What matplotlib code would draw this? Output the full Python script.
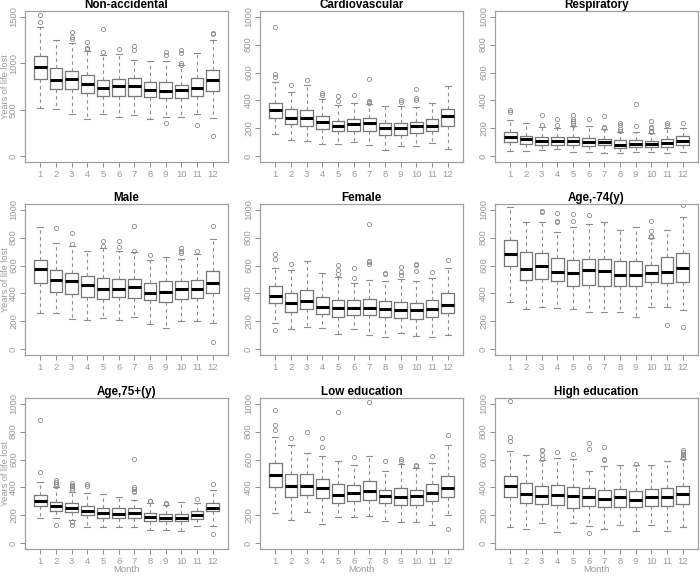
import matplotlib
matplotlib.use("Agg")
import matplotlib.pyplot as plt

plt.rcParams['font.family'] = ['Liberation Sans', 'DejaVu Sans']

months = [str(m) for m in range(1, 13)]

# per panel: whisker low, q1, median, q3, whisker high, outliers
nonacc_lo = [522, 504, 460, 406, 460, 424, 439, 399, 428, 428, 460, 414]
nonacc_q1 = [835, 719, 719, 680, 644, 651, 651, 633, 626, 626, 651, 705]
nonacc_med = [957, 824, 835, 781, 730, 755, 755, 712, 698, 712, 737, 820]
nonacc_q3 = [1072, 953, 921, 871, 824, 835, 845, 799, 799, 770, 845, 928]
nonacc_hi = [1388, 1245, 1216, 1126, 1090, 1097, 1029, 1025, 1025, 978, 1108, 1252]
nonacc_out = [[1522, 1439], [], [1338, 1281, 1262], [1230, 1165, 1150], [1367, 1115], [1151],
              [1180, 1137], [], [1115, 1083, 363], [1137, 1108, 1000, 982], [338], [1327, 1317, 219]]

cardio_lo = [162, 119, 110, 86, 88, 102, 83, 43, 74, 71, 98, 52]
cardio_q1 = [276, 233, 217, 195, 183, 181, 183, 152, 150, 167, 183, 217]
cardio_med = [333, 276, 276, 243, 217, 229, 236, 200, 200, 214, 219, 286]
cardio_q3 = [381, 336, 333, 290, 252, 271, 274, 236, 236, 248, 269, 338]
cardio_hi = [531, 460, 510, 410, 367, 383, 374, 362, 360, 352, 383, 505]
cardio_out = [[929, 590, 567], [514], [543], [450, 440], [429, 393], [436],
              [555, 398, 388, 380], [], [400, 390], [483, 417, 405], [], []]

resp_lo = [41, 41, 44, 53, 34, 34, 23, 23, 30, 30, 23, 28]
resp_q1 = [103, 92, 85, 80, 85, 76, 80, 62, 64, 64, 69, 80]
resp_med = [136, 122, 108, 113, 110, 103, 103, 85, 87, 87, 99, 113]
resp_q3 = [172, 149, 136, 138, 138, 133, 126, 115, 115, 110, 126, 143]
resp_hi = [260, 239, 211, 202, 221, 218, 195, 172, 177, 168, 205, 200]
resp_out = [[329, 317], [], [299, 225], [267, 225], [299, 264, 253, 241, 228], [264],
            [292, 207, 200], [241, 228, 195, 184], [377, 214], [251, 211, 200, 184, 175],
            [237, 223], [241]]

male_lo = [258, 258, 215, 208, 222, 208, 232, 179, 156, 203, 203, 187]
male_q1 = [476, 411, 395, 378, 359, 376, 371, 354, 342, 359, 366, 402]
male_med = [574, 498, 486, 459, 431, 435, 443, 407, 411, 431, 435, 474]
male_q3 = [641, 567, 543, 522, 510, 507, 502, 478, 490, 486, 498, 562]
male_hi = [878, 761, 742, 701, 725, 701, 694, 641, 663, 646, 682, 789]
male_out = [[], [866], [835, 751], [], [778, 737], [778, 734], [880, 706], [675], [],
            [722, 706, 689], [706], [880, 55]]

female_lo = [187, 148, 163, 153, 112, 148, 105, 91, 120, 96, 91, 103]
female_q1 = [330, 270, 287, 256, 234, 244, 246, 234, 222, 220, 234, 258]
female_med = [383, 330, 344, 304, 297, 297, 299, 287, 280, 280, 287, 321]
female_q3 = [450, 400, 423, 378, 352, 352, 359, 347, 340, 335, 354, 400]
female_hi = [579, 569, 629, 550, 519, 474, 495, 486, 507, 486, 510, 581]
female_out = [[682, 646, 139], [610], [], [], [603, 569, 538], [579, 514],
              [897, 634, 622, 610], [550, 538], [586, 555, 531], [610, 603, 562], [557], [641]]

young_lo = [338, 290, 302, 298, 286, 271, 271, 267, 231, 302, 302, 279]
young_q1 = [595, 498, 505, 486, 457, 464, 457, 457, 457, 481, 474, 481]
young_med = [683, 576, 595, 557, 545, 571, 564, 529, 533, 548, 557, 583]
young_q3 = [779, 700, 688, 652, 636, 648, 648, 629, 631, 605, 660, 690]
young_hi = [1017, 910, 910, 843, 874, 898, 914, 857, 874, 798, 857, 945]
young_out = [[], [], [993, 981], [974, 921, 910], [969, 917], [962], [], [], [],
             [919, 850, 810, 802], [176], [1036, 160]]

old_lo = [180, 180, 164, 116, 116, 116, 116, 93, 93, 88, 124, 128]
old_q1 = [266, 235, 223, 200, 183, 183, 183, 159, 157, 159, 171, 230]
old_med = [306, 271, 252, 235, 219, 211, 219, 188, 181, 183, 200, 252]
old_q3 = [347, 299, 287, 264, 254, 252, 252, 216, 207, 211, 230, 290]
old_hi = [442, 401, 371, 359, 354, 330, 314, 290, 278, 295, 290, 382]
old_out = [[881, 513], [455, 440, 425, 410, 133], [432, 420, 408, 397, 385, 152, 133],
           [425, 408], [], [], [601, 401, 390, 378, 366], [306, 300], [292, 285], [],
           [318], [425, 69]]

lowed_lo = [216, 164, 223, 138, 188, 188, 197, 162, 152, 152, 135, 204]
lowed_q1 = [406, 330, 349, 325, 290, 302, 314, 290, 278, 276, 302, 330]
lowed_med = [492, 413, 413, 397, 349, 361, 373, 342, 335, 337, 361, 395]
lowed_q3 = [572, 496, 496, 461, 425, 420, 444, 382, 397, 382, 425, 485]
lowed_hi = [758, 703, 646, 627, 587, 561, 622, 520, 568, 537, 572, 705]
lowed_out = [[952, 848, 812], [751], [800], [751, 690], [943], [615], [1014], [589],
             [603, 591], [563, 556], [627], [774, 100]]

highed_lo = [116, 105, 145, 81, 147, 121, 105, 135, 90, 135, 88, 116]
highed_q1 = [335, 290, 283, 276, 254, 271, 259, 259, 259, 266, 266, 283]
highed_med = [413, 354, 342, 349, 342, 335, 318, 330, 314, 335, 330, 354]
highed_q3 = [480, 430, 413, 418, 401, 397, 385, 390, 378, 390, 394, 413]
highed_hi = [658, 632, 596, 610, 603, 520, 556, 563, 563, 563, 587, 603]
highed_out = [[1019, 758, 729], [], [670, 665, 632, 603], [651], [637], [715, 675, 74],
              [691, 603, 594], [], [568], [], [], [667, 655, 643, 631, 620, 612]]

panels = [
    ("Non-accidental", nonacc_lo, nonacc_q1, nonacc_med, nonacc_q3, nonacc_hi, nonacc_out),
    ("Cardiovascular", cardio_lo, cardio_q1, cardio_med, cardio_q3, cardio_hi, cardio_out),
    ("Respiratory", resp_lo, resp_q1, resp_med, resp_q3, resp_hi, resp_out),
    ("Male", male_lo, male_q1, male_med, male_q3, male_hi, male_out),
    ("Female", female_lo, female_q1, female_med, female_q3, female_hi, female_out),
    ("Age,-74(y)", young_lo, young_q1, young_med, young_q3, young_hi, young_out),
    ("Age,75+(y)", old_lo, old_q1, old_med, old_q3, old_hi, old_out),
    ("Low education", lowed_lo, lowed_q1, lowed_med, lowed_q3, lowed_hi, lowed_out),
    ("High education", highed_lo, highed_q1, highed_med, highed_q3, highed_hi, highed_out),
]

W, H = 700, 576
fig = plt.figure(figsize=(7, 5.76), dpi=100)

col_left = [25, 260, 495]
row_top = [11, 204, 398]
pw, ph = 203, 151

box_grey = '#777777'
line_grey = '#8c8c8c'
text_grey = '#9a9a9a'

for i, (title, lo, q1, med, q3, hi, out) in enumerate(panels):
    r, c = divmod(i, 3)
    ax = fig.add_axes([col_left[c] / W, 1 - (row_top[r] + ph) / H, pw / W, ph / H])

    stats = []
    for k in range(12):
        stats.append({'whislo': lo[k], 'q1': q1[k], 'med': med[k], 'q3': q3[k],
                      'whishi': hi[k], 'fliers': out[k]})

    ax.bxp(stats, positions=range(1, 13), widths=0.8, capwidths=0.4,
           boxprops=dict(color=box_grey, lw=0.9),
           medianprops=dict(color='black', lw=2.2, solid_capstyle='butt'),
           whiskerprops=dict(color=line_grey, lw=0.8, linestyle=(0, (3, 3))),
           capprops=dict(color=line_grey, lw=0.8),
           flierprops=dict(marker='o', markerfacecolor='none', markeredgecolor=line_grey,
                           markersize=3, markeredgewidth=0.6, linestyle='none'))

    ax.set_xlim(0.02, 12.98)
    ax.set_xticks(range(1, 13))
    ax.set_xticklabels(months)
    if i == 0:
        ax.set_ylim(-60, 1560)
        ax.set_yticks([0, 500, 1000, 1500])
    else:
        ax.set_ylim(-40, 1040)
        ax.set_yticks([0, 200, 400, 600, 800, 1000])

    ax.tick_params(direction='out', length=3.5, width=0.7, color=line_grey,
                   labelcolor=text_grey, labelsize=6.8, pad=2)
    ax.tick_params(axis='y', labelrotation=90, pad=1.5)
    for lbl in ax.get_yticklabels():
        lbl.set_va('center')
    for sp in ax.spines.values():
        sp.set_color('#a0a0a0')
        sp.set_linewidth(0.9)

    ax.set_title(title, fontsize=8.4, fontweight='bold', pad=1)
    if c == 0:
        ax.set_ylabel('Years of life lost', fontsize=6.6, color=text_grey, va='center')
        ax.yaxis.set_label_coords(-0.095, 0.5)
    if r == 2:
        ax.set_xlabel('Month', fontsize=6.8, color=text_grey)
        ax.xaxis.set_label_coords(0.5, -0.108)

fig.savefig('out.png', dpi=100)
